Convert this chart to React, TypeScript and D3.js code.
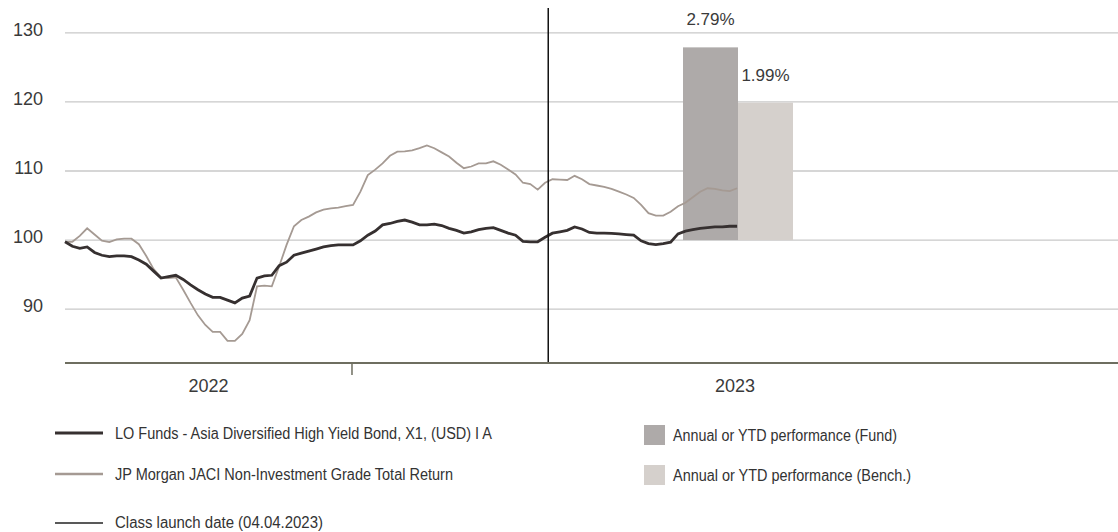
import React from 'react';
import * as d3 from 'd3';

// index values, base 100, sampled twice a week from 18.08.2022
const fundValues = [
  99.75, 99.1, 98.8, 99.0, 98.2, 97.8, 97.6, 97.7, 97.7, 97.6,
  97.1, 96.5, 95.5, 94.5, 94.7, 94.9, 94.3, 93.5, 92.8, 92.2,
  91.7, 91.7, 91.3, 90.9, 91.6, 91.9, 94.5, 94.8, 94.9, 96.3,
  96.8, 97.8, 98.1, 98.4, 98.7, 99.0, 99.2, 99.3, 99.3, 99.3,
  99.9, 100.7, 101.3, 102.2, 102.4, 102.7, 102.9, 102.6, 102.2, 102.2,
  102.3, 102.1, 101.7, 101.4, 101.0, 101.2, 101.5, 101.7, 101.8, 101.4,
  101.0, 100.7, 99.8, 99.75, 99.75, 100.4, 101.0, 101.2, 101.4, 101.9,
  101.6, 101.1, 101.0, 101.0, 100.97, 100.9, 100.8, 100.7, 99.9, 99.5,
  99.35, 99.5, 99.7, 100.9, 101.3, 101.5, 101.7, 101.8, 101.9, 101.9,
  102.0, 102.0,
];

const benchValues = [
  99.75, 99.75, 100.6, 101.7, 100.8, 99.9, 99.7, 100.1, 100.2, 100.2,
  99.4, 97.7, 95.8, 94.6, 94.5, 94.6, 92.8, 90.9, 89.1, 87.7,
  86.7, 86.7, 85.4, 85.4, 86.4, 88.4, 93.3, 93.4, 93.3, 96.2,
  99.3, 102.0, 102.9, 103.4, 104.0, 104.4, 104.6, 104.7, 104.9, 105.1,
  107.0, 109.4, 110.2, 111.1, 112.2, 112.8, 112.85, 113.0, 113.3, 113.7,
  113.3, 112.7, 112.1, 111.2, 110.4, 110.65, 111.1, 111.1, 111.4, 110.9,
  110.2, 109.5, 108.3, 108.1, 107.3, 108.3, 108.8, 108.75, 108.7, 109.3,
  108.8, 108.1, 107.9, 107.7, 107.4, 107.0, 106.6, 106.1, 105.1, 103.9,
  103.55, 103.55, 104.1, 104.9, 105.4, 106.2, 107.0, 107.5, 107.4, 107.2,
  107.1, 107.5,
];

const yTicks = [90, 100, 110, 120, 130];
const years = ['2022', '2023'];
const yearStarts = [new Date(2023, 0, 1)];

const barNames = ['Fund', 'Bench.'];
const barValues = [2.79, 1.99];
const barLabels = ['2.79%', '1.99%'];
const barColors = ['#aeaaa9', '#d5d0cc'];

const launchDate = new Date(2023, 3, 4);

const lineLegend = [
  'LO Funds - Asia Diversified High Yield Bond, X1, (USD) I A',
  'JP Morgan JACI Non-Investment Grade Total Return',
  'Class launch date (04.04.2023)',
];
const barLegend = ['Annual or YTD performance (Fund)', 'Annual or YTD performance (Bench.)'];

const startDate = new Date(2022, 7, 18);
const endDate = new Date(2023, 11, 30);
const dates = fundValues.map((_, i) => d3.timeHour.offset(startDate, 84 * i));

const FONT = '"Liberation Sans", Arial, sans-serif';
const NARROW = '"Liberation Sans Narrow", "Liberation Sans", Arial, sans-serif';

export default function App() {
  const width = 1118;
  const height = 532;
  const left = 65;

  const x = d3.scaleTime().domain([startDate, endDate]).range([left, width]);
  const y = d3.scaleLinear().domain([82.2, 133.6]).range([363, 8]);
  const axisY = y(82.2);

  // bars: 1% performance = 10 index points
  const barY = d3.scaleLinear().domain([0, 1]).range([y(100), y(110)]);
  const barX = d3.scaleBand().domain(barNames).range([683, 793]).padding(0);

  const line = d3
    .line<number>()
    .x((_, i) => x(dates[i]))
    .y((d) => y(d));

  const yearEdges = [x.range()[0], ...yearStarts.map((d) => x(d)), x.range()[1]];

  return (
    <svg
      width={width}
      height={height}
      style={{ position: 'absolute', left: 0, top: 0, background: '#fff' }}
    >
      {yTicks.map((t) => (
        <g key={t}>
          <line x1={left} x2={width} y1={y(t)} y2={y(t)} stroke="#c9c9c9" strokeWidth={1.3} />
          <text x={43} y={y(t) + 3} textAnchor="end" fontFamily={FONT} fontSize={18} fill="#3a3a3a">
            {t}
          </text>
        </g>
      ))}

      {barNames.map((n, i) => (
        <g key={n}>
          <rect
            x={barX(n)}
            width={barX.bandwidth()}
            y={barY(barValues[i])}
            height={barY(0) - barY(barValues[i])}
            fill={barColors[i]}
          />
          <text
            x={(barX(n) as number) + barX.bandwidth() / 2}
            y={barY(barValues[i]) - 22}
            textAnchor="middle"
            fontFamily={FONT}
            fontSize={17}
            fill="#3a3a3a"
          >
            {barLabels[i]}
          </text>
        </g>
      ))}

      <path d={line(benchValues) || ''} fill="none" stroke="#a59a93" strokeWidth={1.8} />
      <path d={line(fundValues) || ''} fill="none" stroke="#363030" strokeWidth={2.8} />

      <line x1={x(launchDate)} x2={x(launchDate)} y1={y(133.6)} y2={axisY} stroke="#111" strokeWidth={1.5} />

      <line x1={left} x2={width} y1={axisY} y2={axisY} stroke="#6e6e60" strokeWidth={1.8} />
      {yearStarts.map((d) => (
        <line key={+d} x1={x(d)} x2={x(d)} y1={axisY} y2={axisY + 12} stroke="#6e6e60" strokeWidth={1.5} />
      ))}
      {years.map((yr, i) => (
        <text
          key={yr}
          x={(yearEdges[i] + yearEdges[i + 1]) / 2}
          y={392}
          textAnchor="middle"
          fontFamily={FONT}
          fontSize={18}
          fill="#3a3a3a"
        >
          {yr}
        </text>
      ))}

      {/* legend, left column */}
      <g fontFamily={NARROW} fontSize={16} fill="#333">
        <line x1={55} x2={103} y1={433} y2={433} stroke="#363030" strokeWidth={3} />
        <text x={115} y={439} textLength={377} lengthAdjust="spacingAndGlyphs">
          {lineLegend[0]}
        </text>
        <line x1={55} x2={103} y1={474} y2={474} stroke="#a59a93" strokeWidth={2.5} />
        <text x={115} y={480} textLength={338} lengthAdjust="spacingAndGlyphs">
          {lineLegend[1]}
        </text>
        <line x1={55} x2={103} y1={523} y2={523} stroke="#222" strokeWidth={1.5} />
        <text x={115} y={528} textLength={208} lengthAdjust="spacingAndGlyphs">
          {lineLegend[2]}
        </text>

        {/* legend, right column */}
        <rect x={644} y={425} width={21} height={20} fill={barColors[0]} />
        <text x={673} y={441} textLength={224} lengthAdjust="spacingAndGlyphs">
          {barLegend[0]}
        </text>
        <rect x={644} y={465} width={21} height={20} fill={barColors[1]} />
        <text x={673} y={481} textLength={238} lengthAdjust="spacingAndGlyphs">
          {barLegend[1]}
        </text>
      </g>
    </svg>
  );
}
